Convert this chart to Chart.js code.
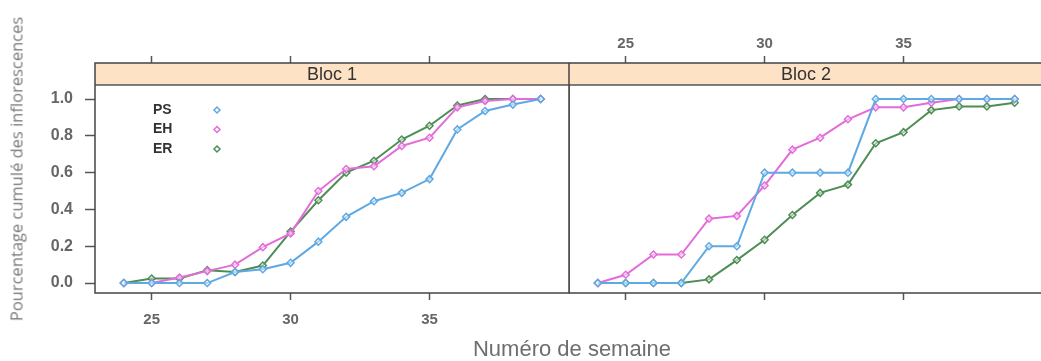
<!DOCTYPE html>
<html>
<head>
<meta charset="utf-8">
<script src="https://cdn.jsdelivr.net/npm/chart.js@4.4.1/dist/chart.umd.min.js"></script>
<style>
  html, body { margin: 0; padding: 0; background: #fff; }
  body { width: 1041px; height: 361px; position: relative; overflow: hidden; }
  canvas { position: absolute; top: 0; }
  #ytitle {
    position: absolute; left: 16px; top: 169px;
    transform: translate(-50%, -50%) rotate(-90deg);
    font: 16.5px "Open Sans", sans-serif; color: #7a7a7a; white-space: nowrap;
  }
  #xtitle {
    position: absolute; left: 572px; top: 349px;
    transform: translate(-50%, -50%);
    font: 22px "Liberation Sans", Arial, sans-serif; color: #6e6e6e; white-space: nowrap;
  }
</style>
</head>
<body>
<canvas id="bloc1" width="572" height="361" style="left:0px;width:572px;height:361px"></canvas>
<canvas id="bloc2" width="474" height="361" style="left:569px;width:474px;height:361px"></canvas>
<div id="ytitle">Pourcentage cumulé des inflorescences</div>
<div id="xtitle">Numéro de semaine</div>

<script>
// weeks (x values) shared by both panels
const weeks = [24, 25, 26, 27, 28, 29, 30, 31, 32, 33, 34, 35, 36, 37, 38, 39];
const seriesNames = ['PS', 'EH', 'ER'];
const xTicks = [25, 30, 35];
const yTicks = [0, 0.2, 0.4, 0.6, 0.8, 1.0];

// Bloc 1 cumulative values
const bloc1PS = [0, 0, 0, 0, 0.06, 0.075, 0.11, 0.225, 0.36, 0.445, 0.49, 0.565, 0.835, 0.935, 0.97, 1.0];
const bloc1EH = [0, 0, 0.03, 0.065, 0.1, 0.195, 0.27, 0.5, 0.62, 0.635, 0.745, 0.79, 0.955, 0.99, 1.0, 1.0];
const bloc1ER = [0, 0.025, 0.025, 0.07, 0.06, 0.095, 0.28, 0.45, 0.6, 0.665, 0.78, 0.855, 0.965, 1.0, 1.0, 1.0];

// Bloc 2 cumulative values
const bloc2PS = [0, 0, 0, 0, 0.2, 0.2, 0.6, 0.6, 0.6, 0.6, 1.0, 1.0, 1.0, 1.0, 1.0, 1.0];
const bloc2EH = [0, 0.045, 0.155, 0.155, 0.35, 0.365, 0.53, 0.725, 0.79, 0.89, 0.955, 0.955, 0.98, 1.0, 1.0, 1.0];
const bloc2ER = [0, 0, 0, 0, 0.02, 0.125, 0.235, 0.37, 0.49, 0.535, 0.76, 0.82, 0.94, 0.96, 0.96, 0.98];

const colors = ['#5ea9e4', '#e46cda', '#4e8d55'];

const X_MIN = 22.96, X_MAX = 40.02;
const Y_MIN = -0.054, Y_MAX = 1.196;

function makeDatasets(values) {
  return values.map((vals, i) => ({
    label: seriesNames[i],
    data: weeks.map((w, j) => ({ x: w, y: vals[j] })),
    borderColor: colors[i],
    backgroundColor: 'rgba(255,255,255,0.5)',
    borderWidth: 2,
    pointStyle: 'rectRot',
    pointRadius: 3.5,
    pointBorderWidth: 1.5,
    pointBorderColor: colors[i],
    tension: 0
  }));
}

// strip + frame drawn around each panel, like lattice
const panelFrame = {
  id: 'panelFrame',
  beforeDatasetsDraw(chart, args, opts) {
    const a = chart.chartArea;
    const ctx = chart.ctx;
    const stripH = 22;
    ctx.save();
    ctx.fillStyle = '#fde2c6';
    ctx.fillRect(a.left, a.top, a.right - a.left, stripH);
    ctx.strokeStyle = '#555';
    ctx.lineWidth = 1.3;
    ctx.beginPath();
    ctx.moveTo(a.left, a.top + stripH);
    ctx.lineTo(a.right, a.top + stripH);
    ctx.stroke();
    ctx.fillStyle = '#333';
    ctx.font = '18px "Liberation Sans", Arial, sans-serif';
    ctx.textAlign = 'center';
    ctx.textBaseline = 'middle';
    ctx.fillText(opts.title, (a.left + a.right) / 2, a.top + stripH / 2 + 1);
    ctx.restore();
  },
  afterDraw(chart) {
    const a = chart.chartArea;
    const ctx = chart.ctx;
    ctx.save();
    ctx.strokeStyle = '#444';
    ctx.lineWidth = 1.5;
    ctx.strokeRect(a.left, a.top, a.right - a.left, a.bottom - a.top);
    ctx.restore();
  }
};

// key inside the first panel: name then marker
const keyPlugin = {
  id: 'keyPlugin',
  afterDatasetsDraw(chart, args, opts) {
    if (!opts.show) return;
    const a = chart.chartArea;
    const ctx = chart.ctx;
    ctx.save();
    chart.data.datasets.forEach((ds, i) => {
      const y = a.top + 47 + i * 19.5;
      ctx.fillStyle = '#333';
      ctx.font = 'bold 14px "Liberation Sans", Arial, sans-serif';
      ctx.textAlign = 'left';
      ctx.textBaseline = 'middle';
      ctx.fillText(ds.label, a.left + 58, y);
      ctx.fillStyle = '#fff';
      ctx.strokeStyle = ds.borderColor;
      ctx.lineWidth = 1.5;
      Chart.helpers.drawPoint(ctx, {
        pointStyle: 'rectRot', radius: 3, borderWidth: 1.5, rotation: 0
      }, a.left + 122, y);
    });
    ctx.restore();
  }
};

function xAxis(position, showLabels, height) {
  return {
    type: 'linear',
    position: position,
    min: X_MIN,
    max: X_MAX,
    afterBuildTicks: s => { s.ticks = xTicks.map(v => ({ value: v })); },
    afterFit: s => { s.height = height; },
    grid: { drawOnChartArea: false, tickLength: 7, color: '#555', tickWidth: 1.5 },
    border: { display: false },
    ticks: {
      display: showLabels,
      color: '#666',
      font: { family: '"Liberation Sans", Arial, sans-serif', size: 15, weight: 'bold' },
      padding: position === 'top' ? 3 : 11,
      maxRotation: 0
    }
  };
}

function makeChart(id, values, title, opts) {
  const scales = {
    x: xAxis('bottom', opts.bottomLabels, 68),
    x2: xAxis('top', opts.topLabels, 63),
    y: {
      type: 'linear',
      display: opts.showY,
      min: Y_MIN,
      max: Y_MAX,
      afterBuildTicks: s => { s.ticks = yTicks.map(v => ({ value: v })); },
      afterFit: s => { s.width = opts.showY ? 95 : 0; },
      grid: { drawOnChartArea: false, tickLength: 10, color: '#555', tickWidth: 1.5 },
      border: { display: false },
      ticks: {
        color: '#666',
        padding: 12,
        font: { family: '"Liberation Sans", Arial, sans-serif', size: 16, weight: 'bold' },
        callback: v => Number(v).toFixed(1)
      }
    }
  };
  return new Chart(document.getElementById(id), {
    type: 'line',
    data: { datasets: makeDatasets(values) },
    options: {
      responsive: false,
      animation: false,
      layout: { padding: opts.padding, autoPadding: false },
      plugins: {
        legend: { display: false },
        tooltip: { enabled: false },
        panelFrame: { title: title },
        keyPlugin: { show: opts.key }
      },
      scales: scales
    },
    plugins: [panelFrame, keyPlugin]
  });
}

makeChart('bloc1', [bloc1PS, bloc1EH, bloc1ER], 'Bloc 1',
  { bottomLabels: true, topLabels: false, showY: true, key: true, padding: { left: 0, right: 3, top: 0, bottom: 0 } });
makeChart('bloc2', [bloc2PS, bloc2EH, bloc2ER], 'Bloc 2',
  { bottomLabels: false, topLabels: true, showY: false, key: false, padding: { left: 0, right: 0, top: 0, bottom: 0 } });
</script>
</body>
</html>
